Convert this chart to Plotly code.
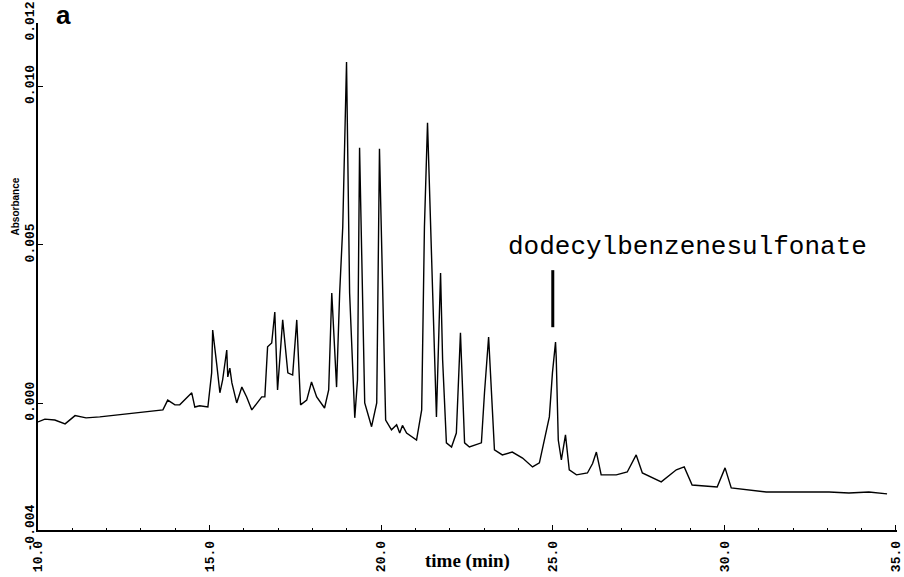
import plotly.graph_objects as go

# Chromatogram: retention time (min) and absorbance (AU)
time_min = [
    10.00, 10.20, 10.49, 10.79, 11.08, 11.40, 11.80, 12.39, 12.97, 13.40, 13.64,
    13.78, 13.99, 14.13, 14.34, 14.48, 14.57, 14.71, 14.95,
    15.06, 15.09, 15.15, 15.21, 15.30, 15.38, 15.50, 15.53, 15.59, 15.65, 15.79,
    15.94, 16.08, 16.23, 16.52, 16.61, 16.69, 16.81, 16.90, 16.98, 17.13, 17.28,
    17.42, 17.54, 17.65, 17.83, 17.97, 18.12, 18.35, 18.47, 18.56, 18.64, 18.70,
    18.79, 18.88, 18.99, 19.08, 19.23, 19.31, 19.37, 19.46, 19.52, 19.72, 19.87,
    19.95, 20.04, 20.13, 20.30, 20.45, 20.54, 20.62, 20.74, 21.03, 21.18, 21.26,
    21.35, 21.44, 21.50, 21.61, 21.73, 21.79, 21.90, 22.05, 22.19, 22.31, 22.43,
    22.57, 22.92, 23.01, 23.13, 23.24, 23.30, 23.53, 23.82, 24.12, 24.41, 24.61,
    24.76, 24.90, 24.99, 25.08, 25.10, 25.16, 25.25, 25.37, 25.48, 25.69, 26.01,
    26.16, 26.27, 26.41, 26.85, 27.17, 27.43, 27.61, 28.16, 28.60, 28.83, 29.06,
    29.79, 30.02, 30.20, 30.72, 31.22, 32.18, 33.05, 33.63, 34.21, 34.74,
]
absorbance_e4 = [
    -5.9, -5.0, -5.3, -6.5, -3.9, -4.6, -4.3, -3.6, -2.7, -2.4, -2.1,
    1.0, -0.5, -0.5, 1.7, 3.3, -1.2, -0.8, -1.2,
    9.6, 23.1, 18.0, 12.1, 3.3, 7.4, 16.8, 8.3, 11.1, 6.4, 0.1,
    5.1, 2.0, -2.1, 2.0, 2.0, 17.8, 19.0, 28.8, 4.2, 26.3, 9.6,
    8.9, 26.3, -0.5, 1.0, 6.7, 2.0, -1.5, 4.2, 34.8, 16.8, 5.1,
    34.8, 55.6, 107.7, 34.8, -4.6, 7.4, 80.6, 24.1, 0.1, -7.4, 0.1,
    80.3, 34.8, -5.3, -8.4, -6.8, -9.4, -7.0, -9.4, -11.6, -2.1, 55.6,
    88.5, 52.4, 34.8, -4.3, 41.1, 13.7, -12.5, -13.8, -9.4, 22.2, -12.5,
    -13.8, -12.5, 3.3, 20.9, -2.1, -14.7, -16.3, -15.4, -17.3, -20.1, -18.8,
    -11.6, -4.3, 9.6, 19.3, 14.6, -11.6, -17.9, -10.0, -21.0, -22.6, -22.0,
    -19.0, -15.4, -22.6, -22.6, -21.7, -16.3, -22.0, -24.8, -21.0, -20.1, -25.8,
    -26.4, -20.4, -26.7, -27.4, -28.0, -28.0, -28.0, -28.3, -28.0, -28.6,
]
absorbance = [v * 1e-4 for v in absorbance_e4]

x_ticks = [10, 15, 20, 25, 30, 35]
x_ticktext = ["10.0", "15.0", "20.0", "25.0", "30.0", "35.0"]
y_ticks = [-0.004, 0.000, 0.005, 0.010, 0.012]
y_ticktext = ["-0.004", "0.000", "0.005", "0.010", "0.012"]

peak_label = "dodecylbenzenesulfonate"
peak_time = 25.0
peak_bar = [0.0024, 0.0042]

tickfont = dict(family="Liberation Mono", size=13, color="black", weight="bold")

fig = go.Figure()
fig.add_trace(go.Scatter(x=time_min, y=absorbance, mode="lines",
                         line=dict(color="black", width=1.4), showlegend=False))

fig.add_shape(type="line", xref="x", yref="y", x0=peak_time, x1=peak_time,
              y0=peak_bar[0], y1=peak_bar[1], line=dict(color="black", width=3))

fig.add_annotation(text=peak_label, xref="x", yref="y", x=23.65, y=0.00493,
                   xanchor="left", yanchor="middle", showarrow=False,
                   font=dict(family="Liberation Mono", size=26, color="black"))
fig.add_annotation(text="<b>a</b>", xref="paper", yref="paper", x=0.03, y=1.015,
                   xanchor="center", yanchor="middle", showarrow=False,
                   font=dict(family="Liberation Sans", size=26, color="black"))
fig.add_annotation(text="<b>Absorbance</b>", xref="paper", yref="y", x=-0.026, y=0.0062,
                   textangle=-90, xanchor="center", yanchor="middle", showarrow=False,
                   font=dict(family="Liberation Sans", size=10, color="black"))
fig.add_annotation(text="<b>time (min)</b>", xref="x", yref="paper", x=22.51, y=-0.061,
                   xanchor="center", yanchor="middle", showarrow=False,
                   font=dict(family="Liberation Serif", size=19, color="black"))

fig.update_xaxes(range=[10, 35.03], tickvals=x_ticks, ticktext=x_ticktext, tickangle=-90,
                 showline=True, linecolor="black", linewidth=1.5, mirror=False, automargin=False,
                 ticks="inside", ticklen=5, tickcolor="black", showgrid=False, zeroline=False,
                 tickfont=tickfont, ticklabelstandoff=4, ticklabeloverflow="allow",
                 minor=dict(ticks="inside", dtick=1, ticklen=2, tickcolor="black", showgrid=False))
fig.update_yaxes(range=[-0.004, 0.012], tickvals=y_ticks, ticktext=y_ticktext, tickangle=-90,
                 showline=True, linecolor="black", linewidth=1.5, automargin=False,
                 ticks="inside", ticklen=5, tickcolor="black", showgrid=False, zeroline=False,
                 tickfont=tickfont, ticklabelstandoff=-3, ticklabeloverflow="allow")

fig.update_layout(width=904, height=577, margin=dict(l=38, r=7, t=23, b=47),
                  paper_bgcolor="white", plot_bgcolor="white")

fig.write_html("out.html")
